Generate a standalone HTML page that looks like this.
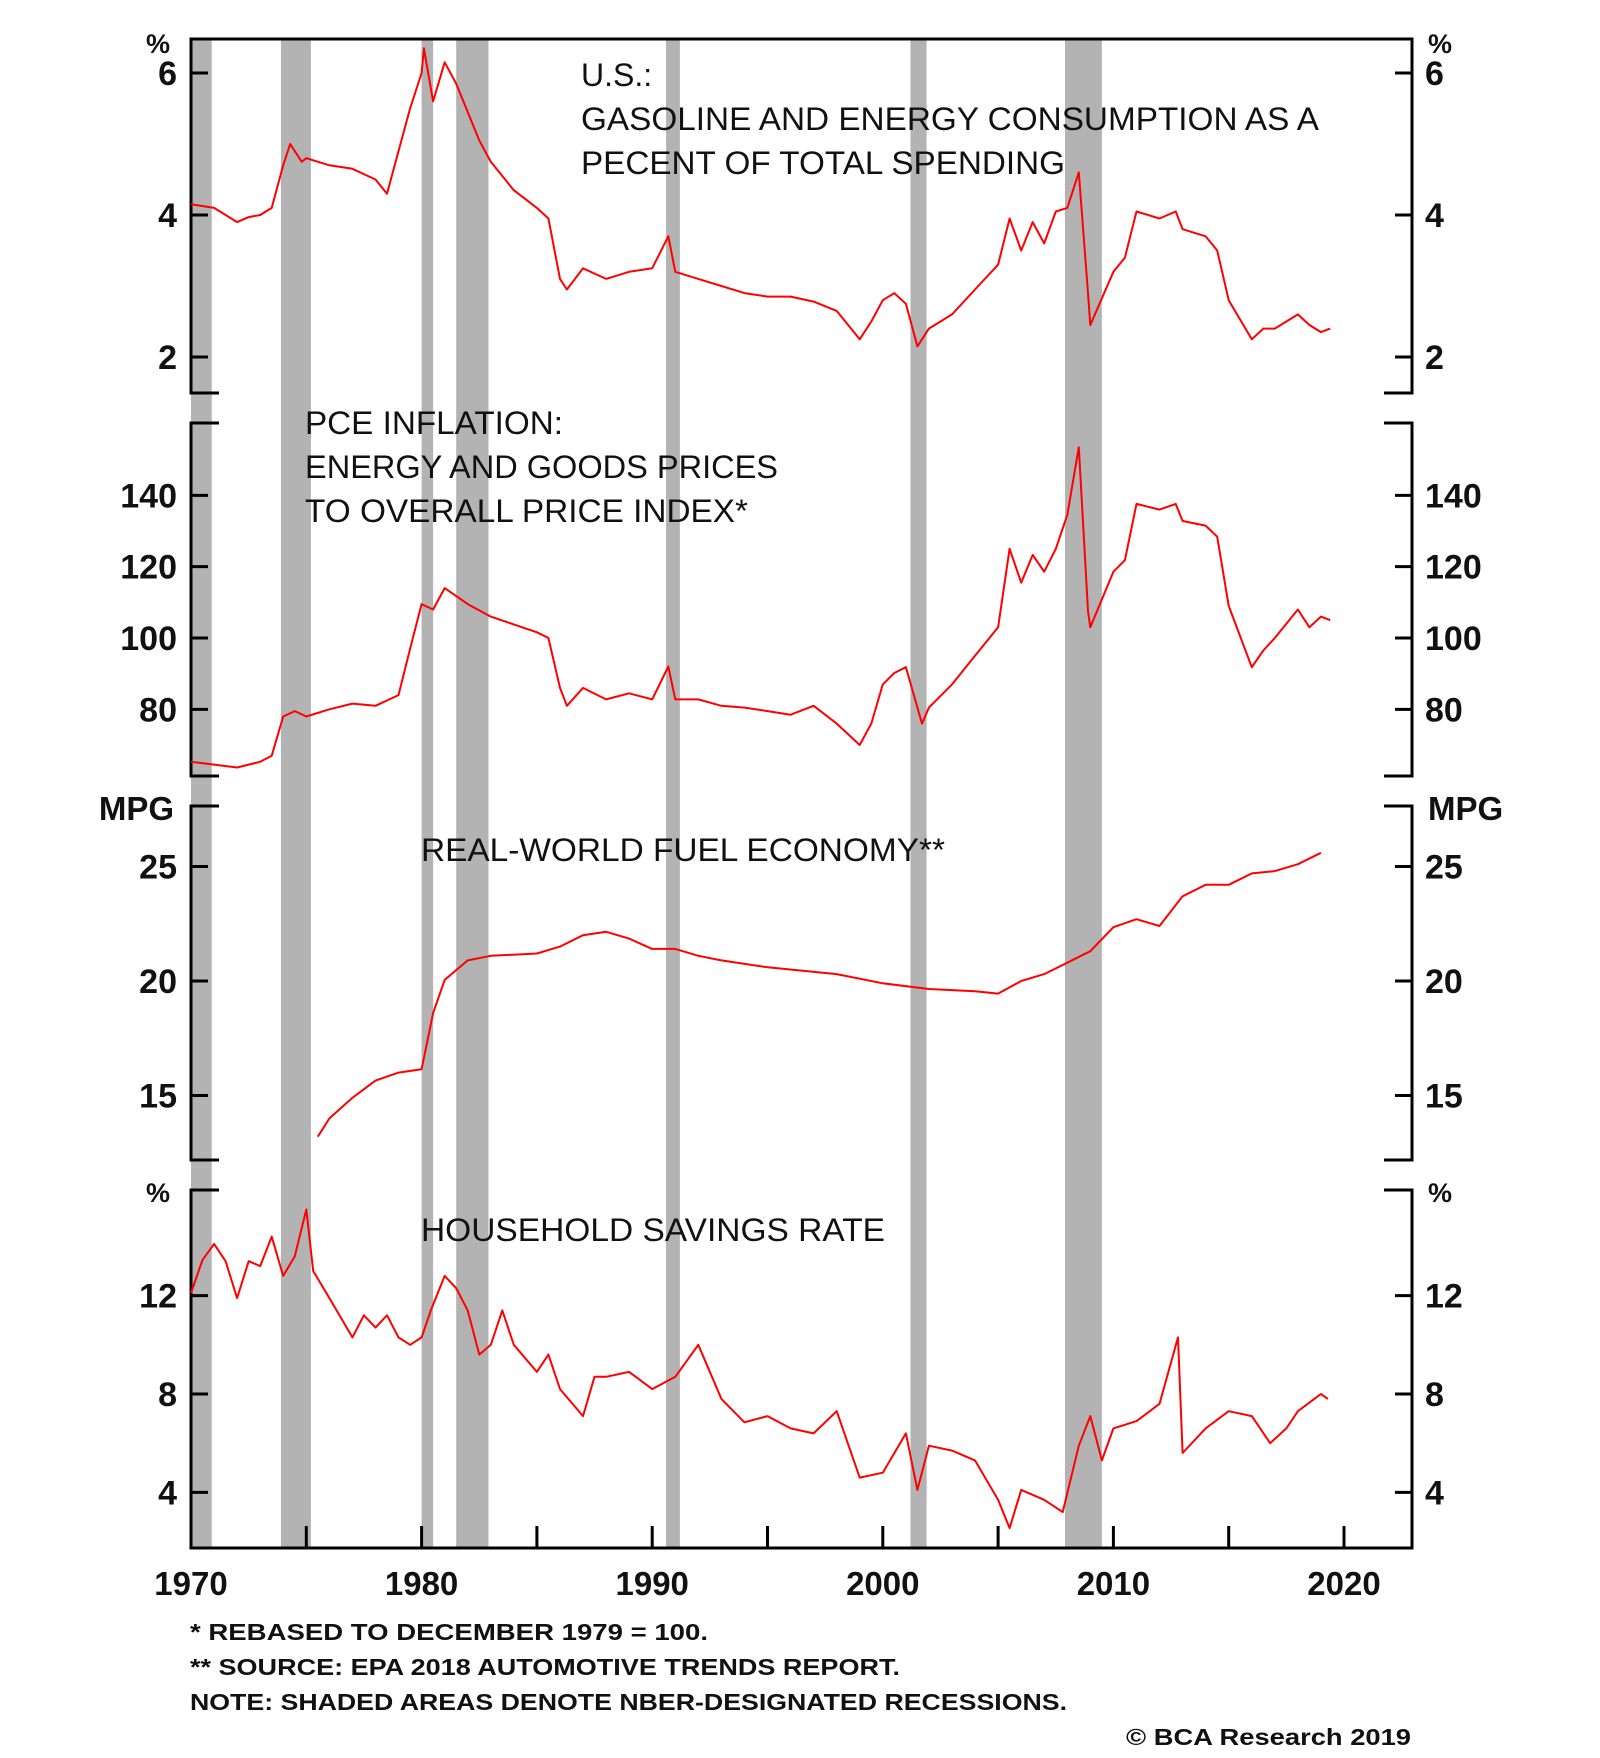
<!DOCTYPE html>
<html><head><meta charset="utf-8"><style>
html,body{margin:0;padding:0;background:#fff;}
svg{display:block;font-family:"Liberation Sans",Arial,sans-serif;}
</style></head><body>
<svg id="chart" width="1600" height="1758" viewBox="0 0 1600 1758" xmlns="http://www.w3.org/2000/svg">
<g id="shade"></g>
<g id="axes"></g>
<g id="lines"></g>
<g id="labels" fill="#111"></g>
<g fill="#111" font-size="32">
<text x="581" y="86">U.S.:</text>
<text x="581" y="130" textLength="738" lengthAdjust="spacingAndGlyphs">GASOLINE AND ENERGY CONSUMPTION AS A</text>
<text x="581" y="174" textLength="484" lengthAdjust="spacingAndGlyphs">PECENT OF TOTAL SPENDING</text>
<text x="305" y="434" textLength="258" lengthAdjust="spacingAndGlyphs">PCE INFLATION:</text>
<text x="305" y="478" textLength="473" lengthAdjust="spacingAndGlyphs">ENERGY AND GOODS PRICES</text>
<text x="305" y="522" textLength="443" lengthAdjust="spacingAndGlyphs">TO OVERALL PRICE INDEX*</text>
<text x="421" y="861" textLength="524" lengthAdjust="spacingAndGlyphs">REAL-WORLD FUEL ECONOMY**</text>
<text x="421" y="1241" textLength="464" lengthAdjust="spacingAndGlyphs">HOUSEHOLD SAVINGS RATE</text>
</g>
<g fill="#111" font-size="23" font-weight="bold">
<text x="190" y="1640" textLength="518" lengthAdjust="spacingAndGlyphs">*  REBASED TO DECEMBER 1979 = 100.</text>
<text x="190" y="1675" textLength="710" lengthAdjust="spacingAndGlyphs">** SOURCE: EPA 2018 AUTOMOTIVE TRENDS REPORT.</text>
<text x="190" y="1710" textLength="877" lengthAdjust="spacingAndGlyphs">NOTE: SHADED AREAS DENOTE NBER-DESIGNATED RECESSIONS.</text>
<text x="1411" y="1745" text-anchor="end" textLength="285" lengthAdjust="spacingAndGlyphs">© BCA Research 2019</text>
</g>
</svg>
<script>
// ---- data ----
const recessionStarts = [1969.9, 1973.9, 1980.0, 1981.5, 1990.6, 2001.2, 2007.9];
const recessionEnds   = [1970.9, 1975.2, 1980.5, 1982.9, 1991.2, 2001.9, 2009.5];
const xTickYears = [1970, 1975, 1980, 1985, 1990, 1995, 2000, 2005, 2010, 2015, 2020];
const xLabelYears = [1970, 1980, 1990, 2000, 2010, 2020];

const energyYears = [1970,1971,1972,1972.5,1973,1973.5,1974,1974.3,1974.8,1975,1976,1977,1978,1978.5,1979,1979.5,1980,1980.1,1980.5,1981,1981.5,1982,1982.5,1983,1984,1985,1985.5,1986,1986.3,1987,1988,1989,1990,1990.7,1991,1992,1993,1994,1995,1996,1997,1998,1999,1999.5,2000,2000.5,2001,2001.5,2002,2003,2004,2005,2005.5,2006,2006.5,2007,2007.5,2008,2008.5,2008.9,2009,2010,2010.5,2011,2012,2012.7,2013,2014,2014.5,2015,2016,2016.5,2017,2018,2018.5,2019,2019.4];
const energyValues = [4.15,4.1,3.9,3.97,4.0,4.1,4.7,5.0,4.75,4.8,4.7,4.65,4.5,4.3,4.9,5.5,6.0,6.35,5.6,6.15,5.85,5.45,5.05,4.75,4.35,4.1,3.95,3.1,2.95,3.25,3.1,3.2,3.25,3.7,3.2,3.1,3.0,2.9,2.85,2.85,2.78,2.65,2.25,2.5,2.8,2.9,2.75,2.15,2.4,2.6,2.95,3.3,3.95,3.5,3.9,3.6,4.05,4.1,4.6,2.9,2.45,3.2,3.4,4.05,3.95,4.05,3.8,3.7,3.5,2.8,2.25,2.4,2.4,2.6,2.45,2.35,2.4];

const pceYears = [1970,1971,1972,1973,1973.5,1974,1974.5,1975,1976,1977,1978,1979,1979.5,1980,1980.5,1981,1982,1983,1984,1985,1985.5,1986,1986.3,1987,1988,1989,1990,1990.7,1991,1992,1993,1994,1995,1996,1997,1998,1999,1999.5,2000,2000.5,2001,2001.7,2002,2003,2004,2005,2005.5,2006,2006.5,2007,2007.5,2008,2008.5,2008.9,2009,2010,2010.5,2011,2012,2012.7,2013,2014,2014.5,2015,2016,2016.5,2017,2018,2018.5,2019,2019.4];
const pceValues = [65.3,64.5,63.7,65.3,67,78,79.5,78,80,81.6,81,84,97,109.5,108,114,109.5,106,103.8,101.6,100,86,81,86,82.8,84.5,82.8,92,82.8,82.8,81,80.5,79.5,78.5,81,76,70,76,87,90.2,91.8,76,80.5,87,95,103,125,115.5,123.3,118.6,125,134.5,153.5,107.6,103,118.6,121.8,137.6,136,137.6,132.8,131.5,128.4,109,91.8,96.5,100,108,103,106,105];

const mpgYears = [1975.5,1976,1977,1978,1979,1980,1980.5,1981,1982,1983,1985,1986,1987,1988,1989,1990,1991,1992,1993,1995,1998,2000,2002,2004,2005,2006,2007,2008,2009,2010,2011,2012,2013,2014,2015,2016,2017,2018,2019];
const mpgValues = [13.2,14.0,14.9,15.65,16.0,16.15,18.6,20.05,20.9,21.1,21.2,21.5,22.0,22.15,21.85,21.4,21.4,21.1,20.9,20.6,20.3,19.9,19.65,19.55,19.45,20.0,20.3,20.8,21.3,22.35,22.7,22.4,23.7,24.2,24.2,24.7,24.8,25.1,25.6];

const savingsYears = [1970,1970.5,1971,1971.5,1972,1972.5,1973,1973.5,1974,1974.5,1975,1975.3,1976,1977,1977.5,1978,1978.5,1979,1979.5,1980,1980.4,1981,1981.5,1982,1982.5,1983,1983.5,1984,1985,1985.5,1986,1987,1987.5,1988,1989,1990,1991,1992,1993,1994,1995,1996,1997,1998,1999,2000,2001,2001.5,2002,2003,2004,2005,2005.5,2006,2007,2007.8,2008.5,2009,2009.5,2010,2011,2012,2012.8,2013,2014,2015,2016,2016.8,2017.5,2018,2019,2019.3];
const savingsValues = [12.1,13.45,14.1,13.4,11.9,13.4,13.2,14.4,12.8,13.6,15.5,13.0,11.9,10.3,11.2,10.7,11.2,10.3,10.0,10.3,11.4,12.8,12.3,11.4,9.6,10.0,11.4,10.0,8.9,9.6,8.2,7.1,8.7,8.7,8.9,8.2,8.7,10.0,7.8,6.85,7.1,6.6,6.4,7.3,4.6,4.8,6.4,4.1,5.9,5.7,5.3,3.7,2.55,4.1,3.7,3.2,5.9,7.1,5.3,6.6,6.9,7.6,10.3,5.6,6.6,7.3,7.1,6.0,6.6,7.3,8.0,7.8];

const panels = [
  {name:'gasoline', top:39, bot:393, ticks:[6,4,2], fmt:v=>String(v), unit:'%', unitY:49, unitSize:27},
  {name:'pce', top:423, bot:776, ticks:[140,120,100,80], fmt:v=>String(v), unit:'', unitY:0},
  {name:'mpg', top:806, bot:1160, ticks:[25,20,15], fmt:v=>String(v), unit:'MPG', unitY:808, unitSize:33},
  {name:'savings', top:1190, bot:1548, ticks:[12,8,4], fmt:v=>String(v), unit:'%', unitY:1198, unitSize:27}
];

// ---- scales ----
const X0 = 191, XR = 1412;
function x(yr){ return X0 + (yr - 1970) * 23.06; }
const yScales = [
  v => 215 - (v - 4) * 71,
  v => 638 - (v - 100) * 3.567,
  v => 981 - (v - 20) * 22.9,
  v => 1394 - (v - 8) * 24.6
];
const NS = 'http://www.w3.org/2000/svg';
function mk(tag, attrs, parent){ const e = document.createElementNS(NS, tag); for (const k in attrs) e.setAttribute(k, attrs[k]); parent.appendChild(e); return e; }

const shade = document.getElementById('shade');
recessionStarts.forEach((s, i) => {
  const r = mk('rect', {x: Math.max(x(s), X0), y: 39, width: x(recessionEnds[i]) - Math.max(x(s), X0), height: 1509, fill: '#b3b3b3'}, shade);
  
  
});

const axes = document.getElementById('axes');
const labels = document.getElementById('labels');
const st = {stroke: '#000', 'stroke-width': 3, fill: 'none'};
panels.forEach((p, i) => {
  const ys = yScales[i];
  const a = mk('path', Object.assign({d: `M${X0+28},${p.top} H${X0} V${p.bot} H${X0+28} M${XR-28},${p.top} H${XR} V${p.bot} H${XR-28}`}, st), axes);
  
  
  p.ticks.forEach(t => {
    const yy = ys(t);
    const tk = mk('path', Object.assign({d: `M${X0},${yy} H${X0+17} M${XR},${yy} H${XR-17}`}, st), axes);
    
    
    const l = mk('text', {x: 177, y: yy + 12, 'text-anchor': 'end', 'font-size': 34, 'font-weight': 'bold'}, labels);
    l.textContent = p.fmt(t);
    
    
    const r = mk('text', {x: 1425, y: yy + 12, 'font-size': 34, 'font-weight': 'bold'}, labels);
    r.textContent = p.fmt(t);
    
    
  });
  if (p.unit) {
    const ul = mk('text', {x: p.unit === 'MPG' ? 174 : 170, y: p.unitY + (p.unit === 'MPG' ? 12 : 4), 'text-anchor': 'end', 'font-size': p.unitSize, 'font-weight': 'bold'}, labels);
    ul.textContent = p.unit;
    
    
    const ur = mk('text', {x: 1428, y: p.unitY + (p.unit === 'MPG' ? 12 : 4), 'font-size': p.unitSize, 'font-weight': 'bold'}, labels);
    ur.textContent = p.unit;
    
    
  }
});
const tl = mk('path', Object.assign({d: `M${X0},39 H${XR} M${X0},1548 H${XR}`}, st), axes);


xTickYears.forEach(yr => {
  const t = mk('path', Object.assign({d: `M${x(yr)},1548 V1526`}, st), axes);
  
  
});
xLabelYears.forEach(yr => {
  const t = mk('text', {x: x(yr), y: 1595, 'text-anchor': 'middle', 'font-size': 33, 'font-weight': 'bold'}, labels);
  t.textContent = String(yr);
  
  
});

const lines = document.getElementById('lines');
function drawLine(years, vals, ys, name){
  const d = years.map((yr, i) => (i ? 'L' : 'M') + x(yr).toFixed(1) + ',' + ys(vals[i]).toFixed(1)).join(' ');
  const p = mk('path', {d: d, stroke: '#ff0000', 'stroke-width': 2, fill: 'none', 'stroke-linejoin': 'round'}, lines);
  
  
}
drawLine(energyYears, energyValues, yScales[0], 'gasoline-energy-share-line');
drawLine(pceYears, pceValues, yScales[1], 'pce-energy-goods-ratio-line');
drawLine(mpgYears, mpgValues, yScales[2], 'fuel-economy-line');
drawLine(savingsYears, savingsValues, yScales[3], 'savings-rate-line');
</script>
</body></html>
